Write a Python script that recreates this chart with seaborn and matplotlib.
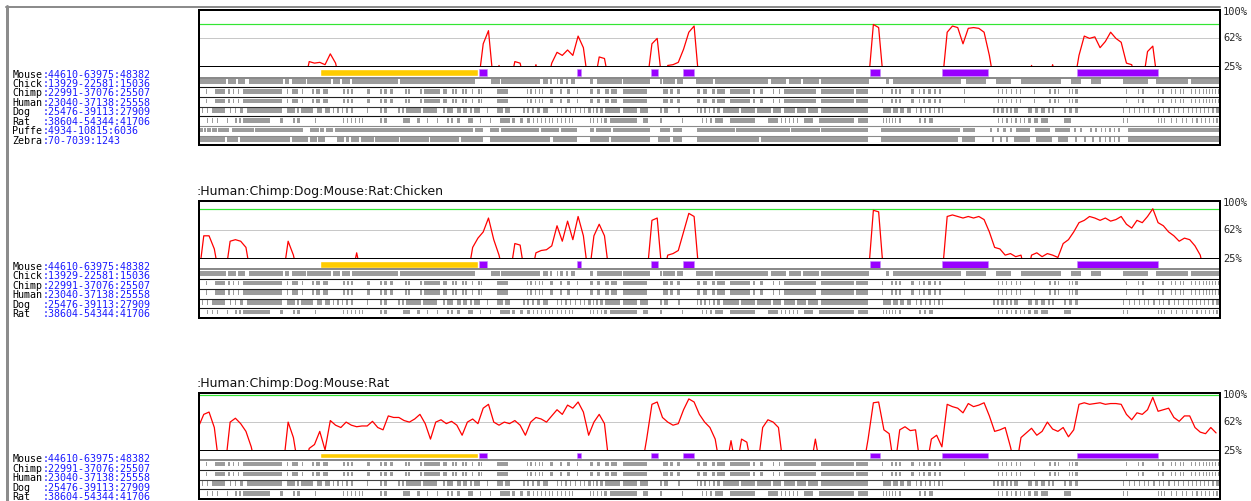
import numpy as np
import matplotlib
matplotlib.use("Agg")
import matplotlib.pyplot as plt
import seaborn as sns

# window on mouse 44610-63975, x values are bp offsets inside the window
WINDOW_BP = 19365
STEP = 100          # conservation curves sampled every 100 bp
BIN = 19            # alignment blocks listed in 19 bp bins

# % identity, one value per 100 bp (values under 25 fall below the plot)
cons_all = ([0]*21 + [32, 30, 31, 28, 42, 30] + [0]*27 +
            [55, 72, 0, 27, 0, 0, 32, 30, 0, 0, 28, 0, 0, 30, 44, 40, 47, 40, 65, 50, 0, 0, 38, 36] +
            [0]*8 + [55, 62, 0, 27, 28, 31, 48, 70, 78] + [0]*33 + [80, 76] + [0]*12 +
            [70, 78, 76, 55, 75, 76, 75, 70, 40] + [0]*7 + [27] + [0]*3 + [28] + [0]*4 +
            [40, 65, 62, 64, 50, 58, 70, 62, 57, 30, 28, 0, 0, 45, 52] + [0]*12)

cons_chicken = ([0, 55, 55, 38, 0, 0, 48, 50, 48, 40] + [0]*7 + [48, 30] + [0]*11 + [33] + [0]*21 +
                [40, 52, 60, 78, 50, 30, 0, 0, 45, 43, 0, 0, 33, 36, 37, 42, 68, 48, 74, 50, 80, 55, 0,
                 55, 70, 55] + [0]*8 + [75, 78, 0, 30, 32, 36, 60, 84, 80] + [0]*33 + [88, 86] + [0]*12 +
                [80, 82, 80, 78, 80, 78, 80, 76, 60, 40, 38, 30, 32, 28, 30, 0,
                 30, 33, 28, 32, 30, 27, 45, 50, 60, 72, 75, 80, 78, 75, 78, 74, 76, 80, 70, 65, 75, 72,
                 80, 90, 72, 68, 60, 55, 48, 52, 50, 42, 30] + [0]*3)

cons_mammal = ([56, 72, 75, 55, 0, 0, 62, 67, 60, 50, 30] + [0]*6 + [62, 42, 0, 0] +
               [28, 33, 50, 26, 64, 58, 55, 62, 58, 56, 57, 57, 63, 55, 52, 70, 68, 68, 64, 62, 66, 72,
                60, 40, 62, 65, 60, 63, 58, 45, 62, 66, 60, 80, 85, 62, 58, 62, 60, 64, 58, 45, 62, 68,
                66, 62, 70, 78, 72, 84, 80, 88, 75, 45, 62, 72, 60] + [0]*7 +
               [40, 85, 88, 68, 62, 58, 60, 78, 92, 88, 72, 62, 55, 40, 0, 0,
                38, 0, 40, 36, 0, 0, 55, 65, 62, 55] + [0]*6 + [40] + [0]*9 +
               [40, 87, 88, 52, 47, 0, 52, 56, 51, 52, 0, 0, 40, 45, 30, 85, 82, 80, 74, 86, 82, 84,
                87, 70, 50, 52, 55, 30, 0, 42, 48, 54, 45, 50, 62, 53, 50, 55, 43, 52, 85, 87, 85, 86,
                87, 85, 86, 86, 85, 72, 65, 74, 72, 78, 94, 76, 78, 80, 68, 63, 70, 70, 55, 49, 47,
                55, 48])

# gene annotation (bp offsets)
utr_blocks = [(2295, 5292)]
exon_blocks = [(5311, 5481), (7170, 7264), (8573, 8706), (9180, 9389),
               (12727, 12917), (14111, 14965), (16653, 18208)]

# aligned blocks per species, (start_bin, end_bin)
chick_aln = [(1, 27), (29, 37), (39, 46), (50, 84), (86, 90), (93, 107), (108, 132), (134, 141),
             (143, 151), (153, 199), (201, 276), (292, 301), (302, 341), (344, 349), (351, 353),
             (358, 359), (361, 364), (367, 369), (372, 376), (391, 394), (398, 423), (424, 451),
             (461, 463), (464, 476), (478, 484), (497, 514), (516, 569), (571, 586), (589, 601),
             (603, 619), (621, 669), (686, 689), (693, 761), (766, 786), (796, 811), (821, 861),
             (871, 881), (891, 901), (923, 948), (956, 988), (991, 1019)]
chimp_aln = [(7, 8), (16, 26), (29, 31), (34, 35), (39, 40), (44, 83), (88, 89), (93, 99), (103, 104),
             (113, 115), (117, 121), (124, 129), (144, 146), (148, 150), (152, 154), (168, 171),
             (181, 183), (185, 188), (191, 194), (206, 208), (209, 211), (221, 223), (225, 241),
             (244, 248), (253, 255), (256, 258), (263, 265), (266, 268), (273, 274), (279, 281),
             (282, 283), (298, 309), (328, 329), (331, 333), (336, 337), (340, 341), (343, 344),
             (351, 354), (361, 363), (368, 371), (378, 379), (391, 394), (398, 401), (406, 410),
             (412, 418), (424, 448), (464, 469), (471, 474), (478, 481), (498, 501), (504, 508),
             (513, 516), (518, 526), (531, 551), (554, 556), (561, 564), (573, 574), (579, 580),
             (584, 616), (621, 654), (656, 668), (682, 683), (691, 693), (695, 697), (699, 701),
             (711, 714), (719, 720), (723, 725), (728, 731), (734, 736), (739, 741), (764, 765),
             (798, 799), (802, 803), (806, 807), (811, 812), (816, 817), (820, 821), (834, 835),
             (849, 851), (854, 856), (858, 859), (869, 870), (872, 873), (875, 878), (926, 927),
             (938, 939), (942, 944), (958, 959), (962, 964), (971, 972), (975, 976), (980, 981),
             (983, 984), (991, 992), (995, 996), (999, 1000), (1003, 1004), (1006, 1007),
             (1009, 1010), (1012, 1013), (1015, 1016), (1018, 1019)]
human_aln = list(chimp_aln)
dog_aln = [(3, 4), (8, 9), (13, 26), (31, 32), (36, 37), (41, 44), (48, 83), (88, 96), (98, 100),
           (102, 114), (118, 123), (126, 131), (134, 135), (138, 140), (143, 144), (147, 149),
           (152, 154), (168, 169), (181, 183), (185, 188), (199, 201), (203, 205), (207, 222),
           (224, 238), (244, 246), (248, 254), (258, 262), (264, 268), (271, 273), (275, 281),
           (288, 289), (298, 304), (306, 311), (324, 326), (328, 330), (333, 335), (338, 341),
           (344, 349), (358, 359), (362, 363), (366, 368), (371, 372), (376, 377), (381, 382),
           (385, 386), (389, 392), (394, 395), (397, 399), (401, 404), (406, 421), (424, 438),
           (441, 449), (461, 463), (465, 469), (479, 481), (498, 499), (501, 503), (505, 507),
           (510, 511), (514, 516), (518, 521), (524, 540), (542, 556), (558, 571), (573, 581),
           (584, 595), (597, 606), (608, 618), (621, 668), (683, 691), (693, 698), (700, 704),
           (707, 711), (716, 717), (720, 722), (725, 726), (729, 731), (734, 735), (738, 740),
           (742, 743), (793, 795), (797, 799), (801, 804), (806, 808), (810, 812), (814, 818),
           (828, 832), (835, 838), (841, 845), (848, 850), (852, 854), (864, 866), (869, 872),
           (875, 878), (923, 924), (929, 930), (934, 935), (939, 940), (944, 945), (948, 949),
           (953, 955), (959, 960), (963, 964), (968, 970), (974, 975), (978, 979), (983, 984),
           (988, 989), (992, 993), (996, 997), (1000, 1001), (1004, 1005), (1008, 1009),
           (1012, 1014), (1016, 1019)]
rat_aln = [(8, 9), (13, 14), (18, 19), (28, 29), (36, 38), (40, 42), (44, 71), (81, 84), (94, 96),
           (98, 101), (116, 117), (144, 145), (148, 149), (152, 153), (156, 157), (160, 161),
           (163, 164), (181, 183), (185, 188), (204, 211), (218, 221), (228, 229), (238, 239),
           (248, 250), (252, 254), (258, 261), (269, 274), (281, 282), (291, 292), (301, 311),
           (313, 316), (321, 324), (328, 331), (334, 335), (338, 339), (342, 343), (346, 347),
           (350, 351), (353, 354), (358, 359), (362, 363), (366, 367), (370, 371), (373, 374),
           (391, 392), (394, 395), (398, 399), (402, 403), (405, 408), (411, 438), (444, 449),
           (461, 463), (483, 484), (503, 504), (507, 508), (511, 513), (516, 524), (531, 556),
           (569, 578), (581, 582), (585, 586), (589, 590), (593, 594), (597, 598), (604, 613),
           (619, 654), (658, 668), (683, 684), (686, 687), (689, 690), (692, 693), (695, 696),
           (699, 701), (719, 721), (724, 726), (729, 733), (798, 799), (802, 803), (806, 808),
           (811, 812), (815, 817), (820, 821), (824, 825), (828, 831), (834, 838), (841, 848),
           (864, 871), (923, 924), (927, 928), (958, 959), (961, 962), (964, 965), (971, 972),
           (976, 977), (982, 983), (986, 987), (992, 993), (996, 998), (1001, 1002), (1005, 1006),
           (1009, 1010), (1013, 1014), (1016, 1018)]
puffe_aln = [(1, 4), (5, 7), (8, 12), (13, 18), (19, 30), (33, 51), (51, 55), (56, 104), (111, 120),
             (121, 125), (127, 134), (136, 274), (276, 284), (291, 300), (302, 340), (342, 360),
             (362, 378), (391, 395), (397, 412), (414, 451), (461, 471), (474, 483), (498, 536),
             (537, 590), (591, 620), (621, 668), (681, 760), (763, 775), (790, 792), (797, 799),
             (803, 806), (810, 812), (816, 830), (835, 850), (855, 870), (874, 876), (880, 882),
             (890, 892), (895, 897), (901, 902), (905, 906), (909, 911), (914, 915), (918, 920),
             (928, 1019)]
zebra_aln = [(1, 26), (28, 39), (41, 91), (93, 109), (111, 118), (119, 126), (138, 145), (147, 150),
             (152, 160), (162, 175), (176, 200), (201, 230), (231, 260), (262, 284), (291, 351),
             (354, 378), (391, 410), (412, 451), (459, 471), (474, 483), (498, 560), (562, 668),
             (681, 758), (762, 775), (792, 794), (800, 802), (806, 808), (814, 830), (836, 852),
             (858, 868), (875, 877), (884, 886), (892, 894), (899, 901), (905, 906), (909, 911),
             (914, 915), (918, 920), (928, 1019)]

seq_ranges = {"Mouse": "44610-63975:48382", "Chick": "13929-22581:15036",
              "Chimp": "22991-37076:25507", "Human": "23040-37138:25558",
              "Dog": "25476-39113:27909", "Rat": "38604-54344:41706",
              "Puffe": "4934-10815:6036", "Zebra": "70-7039:1243"}
tracks = {"Chick": chick_aln, "Chimp": chimp_aln, "Human": human_aln, "Dog": dog_aln,
          "Rat": rat_aln, "Puffe": puffe_aln, "Zebra": zebra_aln}

# layout in pixels of the 1251x501 picture
W, H = 1251, 501
X0, X1 = 198.5, 1219.5
PX_PER_PCT = 0.773
panels = [
    dict(cons=cons_all, thr=80, species=["Chick", "Chimp", "Human", "Dog", "Rat", "Puffe", "Zebra"],
         top=9.7, cb=67.0, tt=77.7, bot=145.3, title=None, lab0=74.5,
         seps=["#8a8a8a", "#111111", "#222222", "#333333", "#111111", "#8a8a8a", "#8a8a8a"]),
    dict(cons=cons_chicken, thr=90, species=["Chick", "Chimp", "Human", "Dog", "Rat"],
         top=200.7, cb=259.0, tt=269.3, bot=318.0, title=":Human:Chimp:Dog:Mouse:Rat:Chicken",
         title_y=191.0, lab0=266.7,
         seps=["#8a8a8a", "#111111", "#222222", "#222222", "#111111"]),
    dict(cons=cons_mammal, thr=97, species=["Chimp", "Human", "Dog", "Rat"],
         top=392.7, cb=450.7, tt=460.0, bot=499.3, title=":Human:Chimp:Dog:Mouse:Rat",
         title_y=383.0, lab0=459.3,
         seps=["#8a8a8a", "#222222", "#444444", "#222222"]),
]

GRAY = "#9c9c9c"
RED = "#ff0000"
GREEN = "#33e633"
BLUE = "#1a1aff"
MONO = "DejaVu Sans Mono"
LAB_PT = 7.2
CHAR_PX = 0.602 * LAB_PT * 100 / 72   # advance of one mono character

sns.set_style("white")
plt.rcParams["font.family"] = ["DejaVu Sans"]

fig = plt.figure(figsize=(W / 100, H / 100), dpi=100)


def box(x0, y0, x1, y1):
    return [x0 / W, 1 - y1 / H, (x1 - x0) / W, (y1 - y0) / H]


def px2pt(px):
    return px * 72 / 100


# outer grey frame of the page
fig.add_artist(plt.Line2D([6 / W, X1 / W], [1 - 6.7 / H, 1 - 6.7 / H], color="#8c8c8c",
                          lw=px2pt(2), transform=fig.transFigure))
fig.add_artist(plt.Line2D([7.2 / W, 7.2 / W], [1 - 6 / H, 0], color="#8c8c8c",
                          lw=px2pt(3), transform=fig.transFigure))

pos = np.arange(len(cons_all)) * STEP

for p in panels:
    vals = np.array(p["cons"], dtype=float)
    ax = fig.add_axes(box(X0, p["top"], X1, p["cb"]))
    ytop = 25 + (p["cb"] - p["top"]) / PX_PER_PCT
    ax.axhline(62, color="#c8c8c8", lw=px2pt(1), zorder=1)
    ax.axhline(p["thr"], color=GREEN, lw=px2pt(1.2), zorder=1)
    sns.lineplot(x=pos, y=vals, ax=ax, color=RED, lw=0.9, zorder=3)
    ax.set_xlim(0, WINDOW_BP)
    ax.set_ylim(25, ytop)
    ax.set_xticks([])
    ax.set_yticks([])
    ax.set_xlabel("")
    ax.set_ylabel("")
    for s in ax.spines.values():
        s.set_color("black")
        s.set_linewidth(px2pt(2))
        s.set_zorder(5)
    # percentage labels on the right
    tr = ax.get_yaxis_transform()
    xl = 1 + 3.5 / (X1 - X0)
    ax.text(xl, ytop - 2.2 / PX_PER_PCT, "100%", transform=tr, family=MONO, size=7.5,
            va="center", ha="left")
    ax.text(xl, 62, "62%", transform=tr, family=MONO, size=7.5, va="center", ha="left")
    ax.text(xl, 25, "25%", transform=tr, family=MONO, size=7.5, va="center", ha="left")

    # annotation + alignment tracks, y in pixel rows of the panel
    tx = fig.add_axes(box(X0, p["cb"], X1, p["bot"]))
    hgt = p["bot"] - p["cb"]
    tx.set_xlim(0, WINDOW_BP)
    tx.set_ylim(hgt, 0)
    tx.set_xticks([])
    tx.set_yticks([])
    ann_h = p["tt"] - p["cb"]
    tx.broken_barh([(a, b - a) for a, b in utr_blocks], (2.3, ann_h - 4.0), facecolors="#ffcc00")
    tx.broken_barh([(a, b - a) for a, b in exon_blocks], (2.3, ann_h - 4.0), facecolors="#9900ff",
                   edgecolors="#c48cff", linewidth=0.4)
    n = len(p["species"])
    pitch = (p["bot"] - p["tt"]) / n
    for k, sp in enumerate(p["species"]):
        r0 = ann_h + k * pitch
        segs = [(a * BIN, (b - a) * BIN) for a, b in tracks[sp]]
        tx.broken_barh(segs, (r0 + 1.7, 4.5), facecolors=GRAY, linewidth=0)
        tx.axhline(r0, color=p["seps"][k], lw=px2pt(2.0 if k == 0 else 1.1), zorder=4)
    for name, s in tx.spines.items():
        s.set_color("black")
        s.set_linewidth(px2pt(2))
        s.set_zorder(5)
    tx.spines["top"].set_visible(False)

    if p["title"]:
        fig.text(197 / W, 1 - p["title_y"] / H, p["title"], size=9, va="center", ha="left",
                 color="#111111")

    # sequence labels on the left: black name, blue range right after it
    names = ["Mouse"] + p["species"]
    for k, nm in enumerate(names):
        y = 1 - (p["lab0"] + k * 9.45) / H
        fig.text(12.5 / W, y, nm, family=MONO, size=LAB_PT, va="center", ha="left",
                 color="black")
        fig.text((12.5 + 5 * CHAR_PX) / W, y, ":" + seq_ranges[nm], family=MONO, size=LAB_PT,
                 va="center", ha="left", color=BLUE)

fig.savefig("out.png", dpi=100)
